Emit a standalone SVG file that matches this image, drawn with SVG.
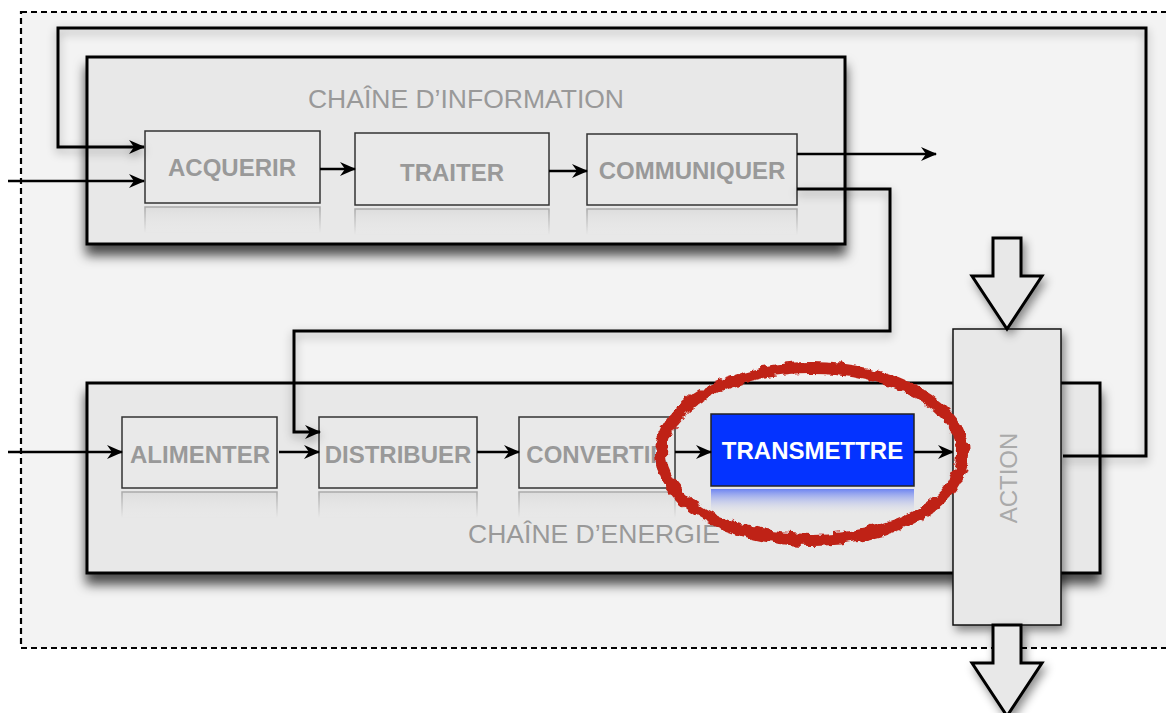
<svg xmlns="http://www.w3.org/2000/svg" width="1166" height="713" viewBox="0 0 1166 713">
<defs>
<style>
.bg{fill:#f3f3f3;stroke:#000;stroke-width:2.2;stroke-dasharray:6 4}
.chain{fill:#e8e8e8;stroke:#000;stroke-width:3}
.node{fill:#e9e9e9;stroke:#333;stroke-width:1.5}
.lbl{font-family:"Liberation Sans",Arial,Helvetica,sans-serif;font-weight:bold;font-size:24px;fill:#999;text-anchor:middle}
.title{font-family:"Liberation Sans",Arial,Helvetica,sans-serif;font-size:26.5px;fill:#999;text-anchor:middle}
.wire{fill:none;stroke:#000;stroke-width:2.5}
.loop{fill:none;stroke:#000;stroke-width:3}
.refl{fill:url(#rg);stroke:url(#rs);stroke-width:1.5}
.big{fill:#e8e8e8;stroke:#000;stroke-width:3;stroke-linejoin:miter}
</style>
<linearGradient id="rg" x1="0" y1="0" x2="0" y2="1">
<stop offset="0" stop-color="#d8d8d8" stop-opacity="0.7"/>
<stop offset="1" stop-color="#e8e8e8" stop-opacity="0"/>
</linearGradient>
<linearGradient id="rs" x1="0" y1="0" x2="0" y2="1">
<stop offset="0" stop-color="#aaa" stop-opacity="1"/>
<stop offset="1" stop-color="#aaa" stop-opacity="0"/>
</linearGradient>
<linearGradient id="rb" x1="0" y1="0" x2="0" y2="1">
<stop offset="0" stop-color="#6d84f2" stop-opacity="1"/>
<stop offset="1" stop-color="#e8e8e8" stop-opacity="0"/>
</linearGradient>
<filter id="sh" x="-10%" y="-10%" width="130%" height="140%">
<feDropShadow dx="0" dy="10" stdDeviation="6" flood-color="#000" flood-opacity="0.7"/>
</filter>
<filter id="shl" x="-10%" y="-10%" width="130%" height="130%">
<feDropShadow dx="0" dy="4" stdDeviation="5" flood-color="#000" flood-opacity="0.35"/>
</filter>
<filter id="shs" x="-20%" y="-20%" width="150%" height="150%">
<feDropShadow dx="3" dy="5" stdDeviation="5" flood-color="#000" flood-opacity="0.45"/>
</filter>
<filter id="rough" x="-10%" y="-10%" width="120%" height="120%">
<feTurbulence type="fractalNoise" baseFrequency="0.09" numOctaves="3" seed="3" result="n"/>
<feDisplacementMap in="SourceGraphic" in2="n" scale="9" xChannelSelector="R" yChannelSelector="G"/>
</filter>
<marker id="ar" viewBox="0 0 16 14" refX="15" refY="7" markerWidth="16" markerHeight="14" markerUnits="userSpaceOnUse" orient="auto">
<path d="M0,0 L16,7 L0,14 L5,7 z" fill="#000"/>
</marker>
</defs>

<rect class="bg" x="21" y="12" width="1200" height="636"/>

<g id="chaine-information">
<rect class="chain" x="87" y="57" width="758" height="187" filter="url(#sh)"/>
<text class="title" x="466" y="108">CHAÎNE D’INFORMATION</text>
</g>

<g id="chaine-energie">
<rect class="chain" x="87" y="383" width="1013" height="190" filter="url(#sh)"/>
<text class="title" x="594" y="543">CHAÎNE D’ENERGIE</text>
</g>

<g id="acquerir">
<rect class="refl" x="145" y="207" width="175" height="26"/>
<rect class="node" x="145" y="131" width="175" height="72"/>
<text class="lbl" x="232" y="176">ACQUERIR</text>
</g>
<g id="traiter">
<rect class="refl" x="355" y="209" width="194" height="26"/>
<rect class="node" x="355" y="133" width="194" height="72"/>
<text class="lbl" x="452" y="181">TRAITER</text>
</g>
<g id="communiquer">
<rect class="refl" x="587" y="209" width="210" height="26"/>
<rect class="node" x="587" y="134" width="210" height="71"/>
<text class="lbl" x="692" y="179">COMMUNIQUER</text>
</g>

<g id="alimenter">
<rect class="refl" x="122" y="492" width="155" height="26"/>
<rect class="node" x="122" y="417" width="155" height="71"/>
<text class="lbl" x="200" y="463">ALIMENTER</text>
</g>
<g id="distribuer">
<rect class="refl" x="319" y="492" width="158" height="26"/>
<rect class="node" x="319" y="417" width="158" height="71"/>
<text class="lbl" x="398" y="463">DISTRIBUER</text>
</g>
<g id="convertir">
<rect class="refl" x="519" y="492" width="156" height="26"/>
<rect class="node" x="519" y="417" width="156" height="71"/>
<text class="lbl" x="597" y="463">CONVERTIR</text>
</g>
<g id="transmettre">
<rect x="711" y="489" width="203" height="26" fill="url(#rb)" stroke="none"/>
<rect x="711" y="414" width="203" height="72" fill="#0433ff" stroke="#222" stroke-width="1.5"/>
<text class="lbl" x="812.5" y="459" style="fill:#fff">TRANSMETTRE</text>
</g>

<g id="connectors">
<path class="loop" d="M1063,456 H1146 V28 H58 V147 H144" marker-end="url(#ar)" filter="url(#shl)"/>
<path class="wire" d="M8,181 H144" marker-end="url(#ar)"/>
<path class="wire" d="M320,169 H355" marker-end="url(#ar)"/>
<path class="wire" d="M549,171 H587" marker-end="url(#ar)"/>
<path class="wire" d="M797,154 H936" marker-end="url(#ar)"/>
<path class="loop" d="M797,189 H890 V331 H294 V432 H320" marker-end="url(#ar)" filter="url(#shl)"/>
<path class="wire" d="M8,452 H122" marker-end="url(#ar)"/>
<path class="wire" d="M279,452 H319" marker-end="url(#ar)"/>
<path class="wire" d="M477,452 H519" marker-end="url(#ar)"/>
<path class="wire" d="M675,452 H711" marker-end="url(#ar)"/>
<path class="wire" d="M914,452 H953" marker-end="url(#ar)"/>
</g>

<g id="action">
<rect x="953" y="329" width="108" height="296" fill="#e8e8e8" stroke="#111" stroke-width="1.5" filter="url(#shs)"/>
<text transform="translate(1017,478) rotate(-90)" style="font-family:'Liberation Sans',Arial,Helvetica,sans-serif;font-size:24px;fill:#aaa;text-anchor:middle">ACTION</text>
</g>

<g id="fleche-entree">
<polygon class="big" points="993,238 1021,238 1021,276 1042,276 1007,329 972,276 993,276" filter="url(#shs)"/>
</g>
<g id="fleche-sortie">
<polygon class="big" points="993,625 1021,625 1021,663 1042,663 1007,716 972,663 993,663" filter="url(#shs)"/>
</g>

<g id="ellipse-rouge">
<ellipse cx="812" cy="454" rx="151" ry="86" fill="none" stroke="#bf2418" stroke-width="12" filter="url(#rough)"/>
</g>
</svg>
